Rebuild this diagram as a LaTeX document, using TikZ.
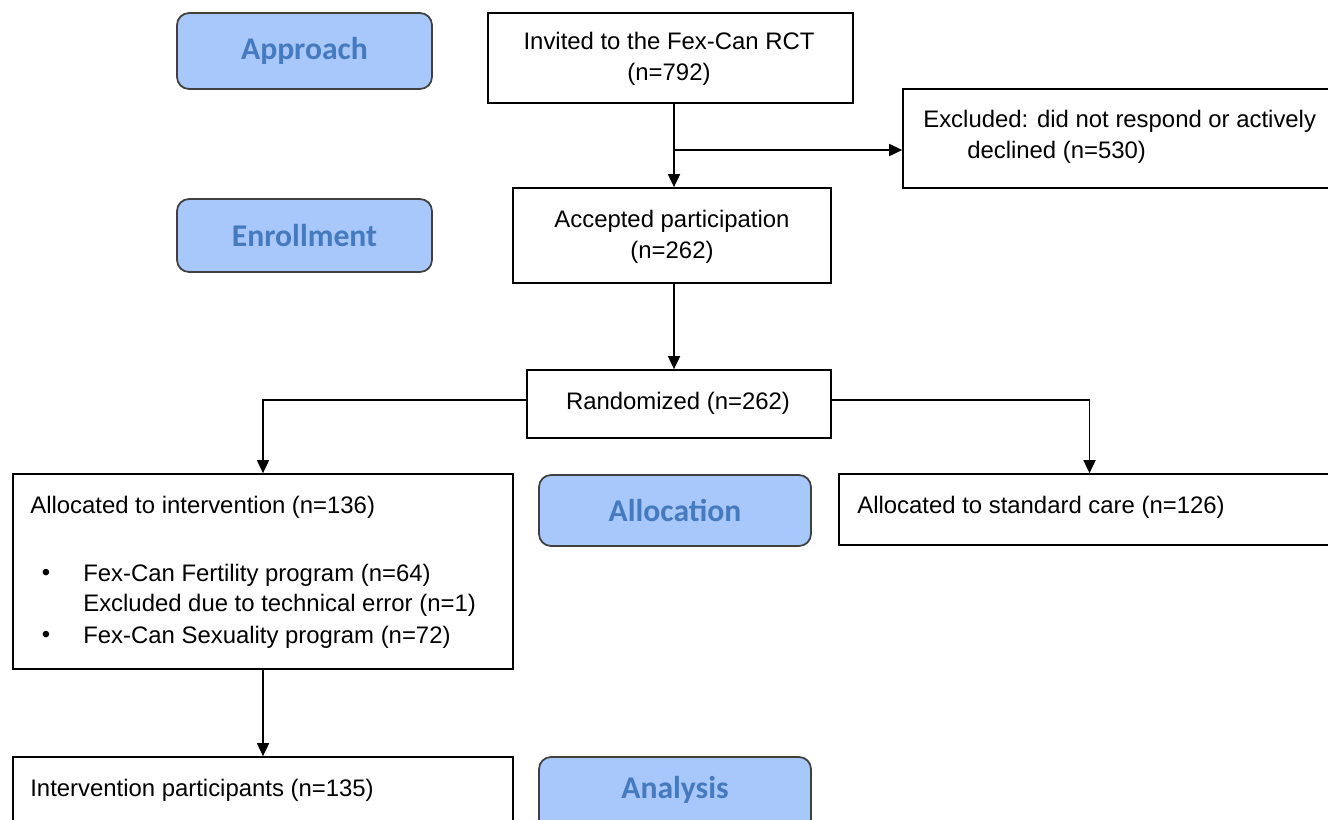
\documentclass[tikz,border=0pt]{standalone}
\usepackage{fontspec}
\setmainfont{Liberation Sans}
\newfontfamily\labfont{Carlito}
\usetikzlibrary{arrows.meta}
\definecolor{labfill}{RGB}{168,199,250}
\definecolor{labtext}{RGB}{70,122,190}
\definecolor{labline}{RGB}{64,64,64}
\tikzset{
  box/.style={draw=black, line width=1pt, fill=white, inner sep=0pt},
  labbox/.style={draw=labline, line width=1pt, fill=labfill, rounded corners=0.24cm, inner sep=0pt,
    font=\labfont\bfseries\fontsize{18}{21}\selectfont, text=labtext},
  txt/.style={inner sep=0pt, font=\fontsize{13.6}{17.6}\selectfont},
  arr/.style={line width=1pt, -{Triangle[length=0.26cm,width=0.24cm]}},
  ln/.style={line width=1pt}
}
\begin{document}
\begin{tikzpicture}[x=0.02cm,y=-0.02cm]
\useasboundingbox (0,0) rectangle (1328,819);
\clip (0,0) rectangle (1328,819);
% label boxes
\node[labbox, minimum width=5.1cm, minimum height=1.52cm] (appr) at (304.5,51) {Approach};
\node[labbox, minimum width=5.1cm, minimum height=1.46cm] (enr) at (304.5,235.5) {Enrollment};
\node[labbox, minimum width=5.44cm, minimum height=1.42cm] (allo) at (675,510.5) {Allocation};
\node[labbox, minimum width=5.44cm, minimum height=1.66cm] (anal) at (675,798.5) {};
\node[font=\labfont\bfseries\fontsize{18}{21}\selectfont, text=labtext, inner sep=0pt] (analt) at (675,790) {Analysis};
% flow boxes
\node[box, minimum width=7.3cm, minimum height=1.8cm] (inv) at (670.5,58) {};
\node[txt, align=center] (invt) at (669,59) {Invited to the Fex-Can RCT\\(n=792)};
\node[box, minimum width=8.74cm, minimum height=1.98cm] (excl) at (1121.5,138.5) {};
\node[txt, align=left, anchor=west] (exclt) at (923,137) {Excluded: did not respond or actively\\\hspace{25pt}declined (n=530)};
\node[box, minimum width=6.36cm, minimum height=1.9cm] (acc) at (672,235.5) {};
\node[txt, align=center] (acct) at (672,237) {Accepted participation\\(n=262)};
\node[box, minimum width=6.08cm, minimum height=1.36cm] (rand) at (679,404) {};
\node[txt] (randt) at (678,403) {Randomized (n=262)};
\node[box, minimum width=10cm, minimum height=3.9cm] (aint) at (263,571.5) {};
\node[txt, anchor=west] (aintt) at (30,507) {Allocated to intervention (n=136)};
\node[txt] (d1) at (46,575) {\textbullet};
\node[txt, anchor=west] (b1) at (83,575) {Fex-Can Fertility program (n=64)};
\node[txt, anchor=west] (b1b) at (83,605) {Excluded due to technical error (n=1)};
\node[txt] (d2) at (46,637) {\textbullet};
\node[txt, anchor=west] (b2) at (83,637) {Fex-Can Sexuality program (n=72)};
\node[box, minimum width=10.02cm, minimum height=1.42cm] (astd) at (1089.5,509.5) {};
\node[txt, anchor=west] (astdt) at (857,507) {Allocated to standard care (n=126)};
\node[box, minimum width=10cm, minimum height=1.66cm] (ipart) at (263,798.5) {};
\node[txt, anchor=west] (ipartt) at (30,790) {Intervention participants (n=135)};
% connectors
\coordinate (trunk) at (674,0);
\coordinate (br) at (674,150);
\coordinate (ry) at (0,400);
\draw[arr] (inv.south -| trunk) -- (acc.north -| trunk);
\draw[arr] (br) -- (br -| excl.west);
\draw[arr] (acc.south -| trunk) -- (rand.north -| trunk);
\draw[arr] (rand.west |- ry) -| (aint.north);
\draw[arr] (rand.east |- ry) -| (astd.north);
\draw[arr] (aint.south) -- (ipart.north);
\end{tikzpicture}
\end{document}
